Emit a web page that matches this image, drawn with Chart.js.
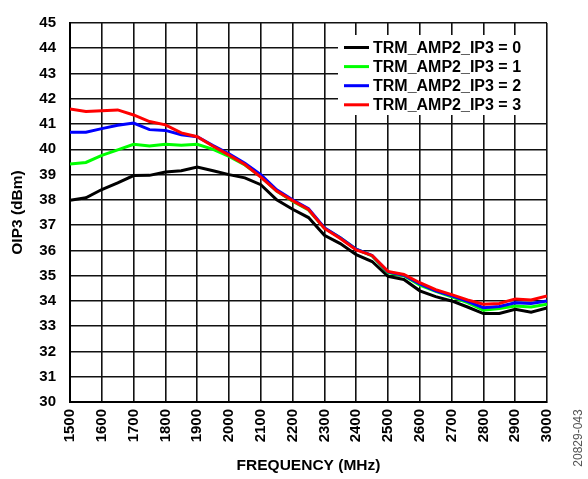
<!DOCTYPE html>
<html>
<head>
<meta charset="utf-8">
<script src="https://cdn.jsdelivr.net/npm/chart.js@4.4.0/dist/chart.umd.min.js"></script>
<style>
  body { margin: 0; background: #fff; }
  #caixa { position: relative; width: 588px; height: 479px; }
</style>
</head>
<body>
<div id="caixa"><canvas id="graficoOip3" width="588" height="479"></canvas></div>
<script>
// frequencia (MHz), passo de 50
var frequencias = [1500, 1550, 1600, 1650, 1700, 1750, 1800, 1850, 1900, 1950, 2000,
    2050, 2100, 2150, 2200, 2250, 2300, 2350, 2400, 2450, 2500,
    2550, 2600, 2650, 2700, 2750, 2800, 2850, 2900, 2950, 3000]

var ip3_0 = [37.98, 38.08, 38.41, 38.67, 38.96, 38.97, 39.1, 39.15, 39.3, 39.15, 39.0,
    38.87, 38.6, 38.0, 37.63, 37.3, 36.6, 36.27, 35.83, 35.56, 34.97,
    34.85, 34.4, 34.17, 34.0, 33.76, 33.5, 33.5, 33.67, 33.55, 33.72]

var ip3_1 = [39.42, 39.48, 39.76, 39.98, 40.2, 40.13, 40.2, 40.16, 40.2, 40.0, 39.72,
    39.38, 38.92, 38.35, 37.95, 37.6, 36.88, 36.5, 36.05, 35.78, 35.12,
    35.0, 34.62, 34.38, 34.16, 33.93, 33.63, 33.7, 33.8, 33.76, 33.87]

var ip3_2 = [40.68, 40.68, 40.82, 40.95, 41.04, 40.78, 40.75, 40.58, 40.5, 40.15, 39.82,
    39.45, 39.0, 38.4, 38.0, 37.65, 36.9, 36.5, 36.05, 35.8, 35.15,
    35.02, 34.67, 34.4, 34.2, 33.98, 33.73, 33.78, 33.93, 33.9, 34.0]

var ip3_3 = [41.6, 41.5, 41.53, 41.56, 41.36, 41.1, 40.97, 40.65, 40.5, 40.12, 39.77,
    39.4, 38.9, 38.35, 37.97, 37.62, 36.87, 36.47, 36.02, 35.8, 35.17,
    35.05, 34.72, 34.45, 34.25, 34.04, 33.87, 33.9, 34.08, 34.04, 34.2]

var nomes = ['TRM_AMP2_IP3 = 0', 'TRM_AMP2_IP3 = 1', 'TRM_AMP2_IP3 = 2', 'TRM_AMP2_IP3 = 3']
var cores = ['#000000', '#00ff00', '#0000ff', '#ff0000']

var fonteBase = 'Liberation Sans, Arial, sans-serif'

function pontos(valores) {
    return frequencias.map(function (f, i) { return { x: f, y: valores[i] } })
}

// legenda dentro do grafico, caixa branca no canto superior direito
var legendaInterna = {
    id: 'legendaInterna',
    afterDatasetsDraw: function (chart) {
        var c = chart.ctx
        var area = chart.chartArea
        var x0 = area.left + 268
        var y0 = area.top + 12
        c.save()
        c.fillStyle = '#ffffff'
        c.fillRect(x0, y0, area.right - x0 - 1, 80)
        c.font = 'bold 16px ' + fonteBase
        c.textBaseline = 'middle'
        for (var i = 0; i < chart.data.datasets.length; i++) {
            var ds = chart.data.datasets[i]
            var y = y0 + 12.5 + i * 19.1
            c.strokeStyle = ds.borderColor
            c.lineWidth = 3
            c.beginPath()
            c.moveTo(x0 + 6, y)
            c.lineTo(x0 + 31, y)
            c.stroke()
            c.fillStyle = '#000'
            c.fillText(ds.label, x0 + 35, y + 1)
        }
        c.restore()
    },
    afterDraw: function (chart) {
        var c = chart.ctx
        c.save()
        c.translate(579, 438)
        c.rotate(-Math.PI / 2)
        c.font = '12px ' + fonteBase
        c.fillStyle = '#555'
        c.textAlign = 'center'
        c.textBaseline = 'middle'
        c.fillText('20829-043', 0, 0)
        c.restore()
    }
}

var ctx = document.getElementById('graficoOip3')

var myChart = new Chart(ctx, {
    type: 'line',
    data: {
        datasets: [
            { label: nomes[0], data: pontos(ip3_0), borderColor: cores[0], order: 3 },
            { label: nomes[1], data: pontos(ip3_1), borderColor: cores[1], order: 2 },
            { label: nomes[2], data: pontos(ip3_2), borderColor: cores[2], order: 1 },
            { label: nomes[3], data: pontos(ip3_3), borderColor: cores[3], order: 0 }
        ]
    },
    options: {
        responsive: false,
        animation: false,
        devicePixelRatio: 1,
        layout: { padding: { top: 17, right: 41, left: 0, bottom: 0 } },
        elements: {
            line: { borderWidth: 3, tension: 0, fill: false },
            point: { radius: 0 }
        },
        plugins: {
            legend: { display: false },
            tooltip: { enabled: false }
        },
        scales: {
            x: {
                type: 'linear',
                min: 1500,
                max: 3000,
                afterFit: function (s) { s.height = 77 },
                grid: { color: '#111', lineWidth: 1.6, drawTicks: false },
                border: { color: '#000', width: 2 },
                ticks: {
                    stepSize: 100,
                    autoSkip: false,
                    minRotation: 90,
                    maxRotation: 90,
                    padding: 7,
                    color: '#000',
                    font: { family: fonteBase, size: 15, weight: 'bold' },
                    callback: function (v) { return String(v) }
                },
                title: {
                    display: true,
                    text: 'FREQUENCY (MHz)',
                    color: '#000',
                    font: { family: fonteBase, size: 15.5, weight: 'bold' },
                    padding: { top: 0, bottom: 4 }
                }
            },
            y: {
                min: 30,
                max: 45,
                afterFit: function (s) { s.width = 70 },
                grid: { color: '#111', lineWidth: 1.6, drawTicks: false },
                border: { color: '#000', width: 2 },
                ticks: {
                    stepSize: 1,
                    padding: 14,
                    color: '#000',
                    font: { family: fonteBase, size: 15, weight: 'bold' }
                },
                title: {
                    display: true,
                    text: 'OIP3 (dBm)',
                    color: '#000',
                    font: { family: fonteBase, size: 15.5, weight: 'bold' },
                    padding: { top: 8, bottom: 0 }
                }
            }
        }
    },
    plugins: [legendaInterna]
})
</script>
</body>
</html>
